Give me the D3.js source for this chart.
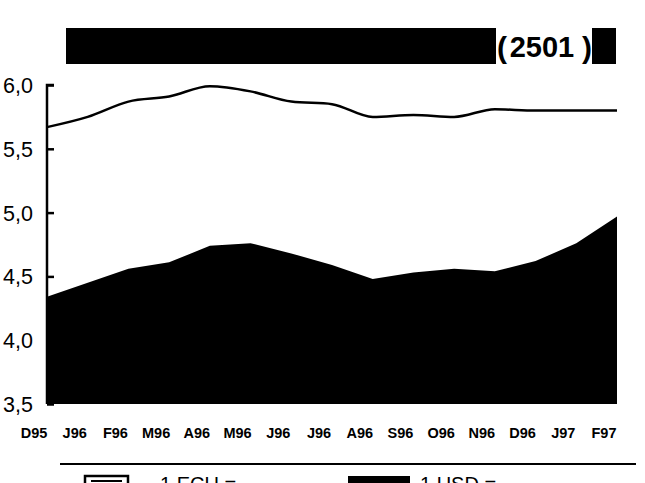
<!DOCTYPE html>
<html><head><meta charset="utf-8">
<script src="https://cdn.jsdelivr.net/npm/d3@7"></script>
<style>html,body{margin:0;padding:0;background:#fff;overflow:hidden}svg{display:block}</style>
</head><body>
<svg id="c" width="645" height="483"></svg>
<script>
const months = ["D95","J96","F96","M96","A96","M96","J96","J96","A96","S96","O96","N96","D96","J97","F97"];
const ecu = [5.67,5.75,5.87,5.91,5.99,5.95,5.87,5.85,5.75,5.765,5.75,5.81,5.80,5.80,5.80];
const usd = [4.34,4.45,4.56,4.61,4.74,4.76,4.68,4.59,4.48,4.53,4.56,4.54,4.62,4.76,4.97];
const yTicks = [3.5,4.0,4.5,5.0,5.5,6.0];
const titleCode = "2501";
const legendLabels = ["1 ECU =","1 USD ="];

const font = "Liberation Sans, Arial, sans-serif";
const svg = d3.select("#c");
const x = d3.scalePoint().domain(d3.range(months.length)).range([47,617]);
const y = d3.scaleLinear().domain([3.5,6.0]).range([404,85]);

// title bar
svg.append("rect").attr("x",66).attr("y",28).attr("width",550).attr("height",36).attr("fill","#000");
svg.append("rect").attr("x",496).attr("y",25).attr("width",96).attr("height",42).attr("fill","#fff");
svg.append("text").attr("x",502).attr("y",58).attr("text-anchor","middle")
  .attr("font-family",font).attr("font-weight","bold").attr("font-size",30).text("(");
svg.append("text").attr("x",587).attr("y",58).attr("text-anchor","middle")
  .attr("font-family",font).attr("font-weight","bold").attr("font-size",30).text(")");
svg.append("text").attr("x",542).attr("y",57).attr("text-anchor","middle")
  .attr("font-family",font).attr("font-weight","bold")
  .attr("font-size",29).attr("fill","#000").text(titleCode);

// area (USD)
const area = d3.area().x((d,i)=>x(i)).y0(y(3.5)).y1(d=>y(d)).curve(d3.curveLinear);
svg.append("path").datum(usd).attr("d",area).attr("fill","#000");

// line (ECU)
const line = d3.line().x((d,i)=>x(i)).y(d=>y(d)).curve(d3.curveMonotoneX);
svg.append("path").datum(ecu).attr("d",line).attr("fill","none").attr("stroke","#000").attr("stroke-width",2.5);

// y axis
const ax = svg.append("g").attr("transform","translate(47,0)")
  .call(d3.axisRight(y).tickValues(yTicks).tickSize(7).tickFormat(()=>""));
ax.select(".domain").attr("d",`M7,${y(6.0)}H0V${y(3.5)}`).attr("stroke-width",2.5);
ax.selectAll(".tick line").attr("stroke-width",2.5);
svg.append("g").selectAll("text").data(yTicks).join("text")
  .attr("x",3).attr("y",d=>y(d)+8).attr("font-family",font)
  .attr("font-size",21.5).attr("fill","#000").text(d=>d3.format(".1f")(d).replace(".",","));

// x labels
svg.append("g").selectAll("text").data(months).join("text")
  .attr("x",(d,i)=>x(i)-13).attr("y",438).attr("text-anchor","middle")
  .attr("font-family",font).attr("font-weight","bold")
  .attr("font-size",14.5).attr("fill","#000").text(d=>d);

// legend
svg.append("line").attr("x1",60).attr("x2",636).attr("y1",464).attr("y2",464).attr("stroke","#000").attr("stroke-width",2);
svg.append("rect").attr("x",85).attr("y",476).attr("width",43).attr("height",16).attr("fill","#fff").attr("stroke","#000").attr("stroke-width",2.5);
svg.append("line").attr("x1",91).attr("x2",122).attr("y1",481).attr("y2",481).attr("stroke","#000").attr("stroke-width",2);
svg.append("rect").attr("x",348).attr("y",476).attr("width",62).attr("height",16).attr("fill","#000");
svg.append("text").attr("x",160).attr("y",491).attr("font-family",font).attr("font-size",20).text(legendLabels[0]);
svg.append("text").attr("x",420).attr("y",491).attr("font-family",font).attr("font-size",20).text(legendLabels[1]);
</script>
</body></html>
